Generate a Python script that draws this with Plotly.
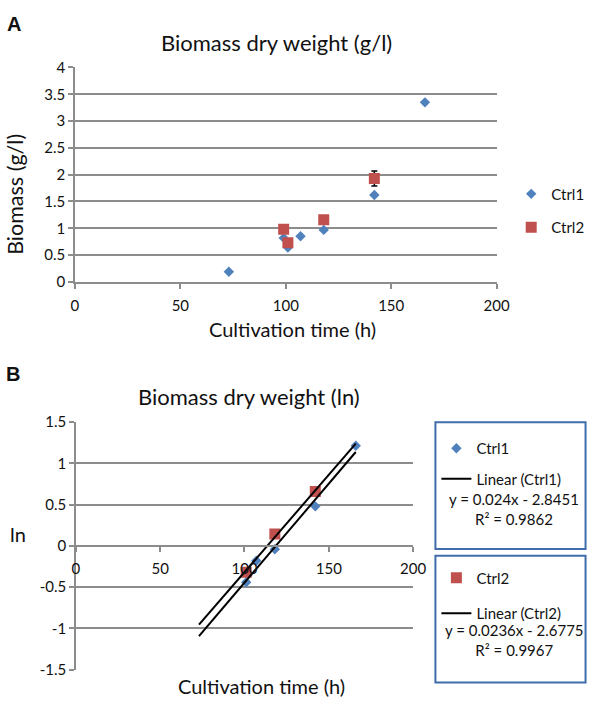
import plotly.graph_objects as go

# ---------------- data ----------------
# Panel A: biomass dry weight (g/l)
A_CTRL1_T = [73, 99, 101, 107, 118, 142, 166]
A_CTRL1_Y = [0.19, 0.82, 0.64, 0.85, 0.97, 1.62, 3.35]
A_CTRL2_T = [99, 101, 118, 142]
A_CTRL2_Y = [0.98, 0.73, 1.16, 1.93]
A_CTRL2_ERR = [0, 0, 0, 0.14]

# Panel B: ln of biomass
B_CTRL1_T = [101, 107, 118, 142, 166]
B_CTRL1_Y = [-0.44, -0.18, -0.04, 0.48, 1.215]
B_CTRL2_T = [101, 118, 142]
B_CTRL2_Y = [-0.32, 0.145, 0.66]

# Linear trendlines (slope, intercept, R^2) and drawn range
TREND1 = (0.024, -2.8451, 0.9862)
TREND2 = (0.0236, -2.6775, 0.9967)
TREND_X = [73, 166]

X_TICKS = [0, 50, 100, 150, 200]
A_Y_TICKS = [0, 0.5, 1, 1.5, 2, 2.5, 3, 3.5, 4]
B_Y_TICKS = [-1.5, -1, -0.5, 0, 0.5, 1, 1.5]
B_Y_LABELS = ["-1.5", "-1", "-0.5", "0", "0.5", "1", "1.5"]

# ---------------- style ----------------
W, H = 600, 705
BLUE = "#4F81BD"
RED = "#C0504D"
GRID = "#8c8c8c"
TXT = "#111111"
FONT = "Lato"
BOXC = "#3F6DAA"


def px(x):
    return x / W


def py(y):
    return 1 - y / H


fig = go.Figure()

# Panel A
fig.add_trace(go.Scatter(x=A_CTRL1_T, y=A_CTRL1_Y, mode="markers", name="Ctrl1",
                         marker=dict(symbol="diamond", size=8, color=BLUE),
                         xaxis="x", yaxis="y", legend="legend", legendgroup="a1"))
fig.add_trace(go.Scatter(x=A_CTRL2_T, y=A_CTRL2_Y, mode="markers", name="Ctrl2",
                         marker=dict(symbol="square", size=11, color=RED),
                         error_y=dict(type="data", array=A_CTRL2_ERR, color="black",
                                      thickness=1.5, width=3),
                         xaxis="x", yaxis="y", legend="legend", legendgroup="a2"))

# Panel B
fig.add_trace(go.Scatter(x=B_CTRL1_T, y=B_CTRL1_Y, mode="markers", name="Ctrl1",
                         marker=dict(symbol="diamond", size=8, color=BLUE),
                         xaxis="x2", yaxis="y2", legend="legend2", legendgroup="b1"))
fig.add_trace(go.Scatter(x=B_CTRL2_T, y=B_CTRL2_Y, mode="markers", name="Ctrl2",
                         marker=dict(symbol="square", size=11, color=RED),
                         xaxis="x2", yaxis="y2", legend="legend3", legendgroup="b3"))
for (m, b, r2), nm, lg, grp in [(TREND1, "Linear (Ctrl1)", "legend2", "b2"),
                                (TREND2, "Linear (Ctrl2)", "legend3", "b4")]:
    fig.add_trace(go.Scatter(x=TREND_X, y=[m * t + b for t in TREND_X], mode="lines",
                             name=nm, line=dict(color="black", width=2),
                             xaxis="x2", yaxis="y2", legend=lg, legendgroup=grp))

axis_common = dict(showline=True, linecolor=GRID, linewidth=1.5, ticks="outside",
                   ticklen=5, tickcolor=GRID, tickwidth=1.5,
                   tickfont=dict(family=FONT, size=15, color=TXT), zeroline=False)

leg_font = dict(family=FONT, size=15, color=TXT)

fig.update_layout(
    width=W, height=H, autosize=False,
    margin=dict(l=0, r=0, t=0, b=0),
    paper_bgcolor="white", plot_bgcolor="white",
    font=dict(family=FONT, color=TXT),
    xaxis=dict(domain=[px(73), px(507)], range=[0, 200], tickvals=X_TICKS,
               showgrid=False, anchor="y", ticklabelstandoff=4, **axis_common),
    yaxis=dict(domain=[py(279), py(59)], range=[0, 4], tickvals=A_Y_TICKS,
               showgrid=True, gridcolor=GRID, gridwidth=1.5, anchor="x", **axis_common),
    xaxis2=dict(domain=[px(74), px(421)], range=[0, 200], tickvals=X_TICKS,
                showgrid=False, anchor="free", position=py(550), ticklabelstandoff=4,
                **axis_common),
    yaxis2=dict(domain=[py(677), py(423)], range=[-1.5, 1.5], tickvals=B_Y_TICKS,
                ticktext=B_Y_LABELS,
                showgrid=True, gridcolor=GRID, gridwidth=1.5, anchor="x2", **axis_common),
    legend=dict(x=px(522), y=py(172), xanchor="left", yanchor="top",
                font=leg_font, tracegroupgap=11, bgcolor="rgba(0,0,0,0)"),
    legend2=dict(x=px(445), y=py(433), xanchor="left", yanchor="top",
                 font=leg_font, tracegroupgap=8, bgcolor="rgba(0,0,0,0)"),
    legend3=dict(x=px(445), y=py(566), xanchor="left", yanchor="top",
                 font=leg_font, tracegroupgap=13, bgcolor="rgba(0,0,0,0)"),
)

# Legend boxes for panel B
for y0, y1 in [(423, 553), (560, 690)]:
    fig.add_shape(type="rect", xref="paper", yref="paper",
                  x0=px(444), x1=px(598.5), y0=py(y1), y1=py(y0),
                  line=dict(color=BOXC, width=2), fillcolor="rgba(0,0,0,0)")


def ann(text, x, y, size, rot=0, family=FONT):
    fig.add_annotation(text=text, x=px(x), y=py(y), xref="paper", yref="paper",
                       showarrow=False, textangle=rot, xanchor="center", yanchor="middle",
                       font=dict(family=family, size=size, color=TXT))


ann("<b>A</b>", 10, 14, 20, family="Liberation Sans")
ann("<b>B</b>", 9, 374, 20, family="Liberation Sans")
ann("Biomass dry weight (g/l)", 280, 33, 22)
ann("Biomass dry weight (ln)", 252, 397, 22)
ann("Biomass (g/l)", 12, 189, 21.5, rot=-90)
ann("Cultivation time (h)", 297, 327, 20)
ann("ln", 14, 538, 20)
ann("Cultivation time (h)", 265, 694, 20)

for (m, b, r2), yc in [(TREND1, 512), (TREND2, 646)]:
    ann(f"y = {m:g}x - {abs(b):g}<br>R² = {r2:g}", 525, yc, 15)

fig.write_html("out.html", config={"displayModeBar": False},
               post_script="document.body.style.margin='0px';")
